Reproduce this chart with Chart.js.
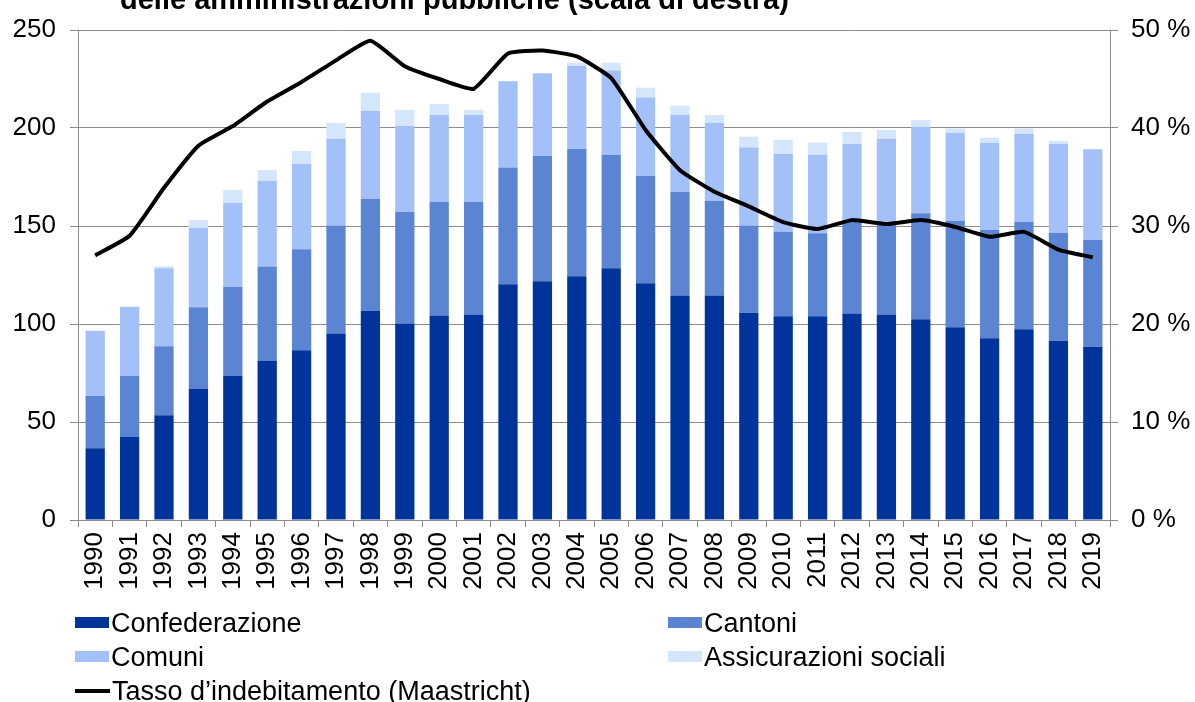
<!DOCTYPE html>
<html>
<head>
<meta charset="utf-8">
<script src="https://cdn.jsdelivr.net/npm/chart.js@4"></script>
<style>
   html, body { margin: 0; padding: 0; background: #fff; overflow: hidden; }
   #wrap { position: relative; width: 1195px; height: 702px; overflow: hidden; font-family: "Liberation Sans", Arial, sans-serif; }
   #title { position: absolute; left: 120px; top: -15px; font-size: 29px; line-height: 29px; font-weight: bold; color: #000; white-space: nowrap; }
   .leg { position: absolute; font-size: 27px; line-height: 30px; color: #000; white-space: nowrap; }
   .sw { display: inline-block; width: 34px; height: 11px; vertical-align: middle; margin-right: 2px; position: relative; top: -2px; }
   .ln { display: inline-block; width: 35px; height: 4px; background: #000; vertical-align: middle; margin-right: 2px; position: relative; top: -2px; }
</style>
</head>
<body>
<div id="wrap">
   <div id="title">delle amministrazioni pubbliche (scala di destra)</div>
   <canvas id="chart" width="1195" height="702"></canvas>
   <div class="leg" style="left:75px;top:608px"><span class="sw" style="background:#00349a"></span>Confederazione</div>
   <div class="leg" style="left:668px;top:608px"><span class="sw" style="background:#5b85d2"></span>Cantoni</div>
   <div class="leg" style="left:75px;top:642px"><span class="sw" style="background:#a3c0f8"></span>Comuni</div>
   <div class="leg" style="left:668px;top:642px"><span class="sw" style="background:#d4e6fb"></span>Assicurazioni sociali</div>
   <div class="leg" style="left:75px;top:676px"><span class="ln"></span>Tasso d’indebitamento (Maastricht)</div>
</div>
<script>
// anni
var years = ["1990","1991","1992","1993","1994","1995","1996","1997","1998","1999",
   "2000","2001","2002","2003","2004","2005","2006","2007","2008","2009",
   "2010","2011","2012","2013","2014","2015","2016","2017","2018","2019"];

// debito in mia. di franchi
var confederazione = [36.6,42.3,53.4,66.8,73.5,81.1,86.6,95.2,106.8,100.3,
   104.4,104.8,120.3,121.8,124.3,128.4,120.8,114.5,114.5,105.8,
   103.9,103.9,105.4,104.8,102.4,98.3,92.7,97.3,91.5,88.4];
var cantoni = [26.8,31.2,35.2,41.7,45.5,48.2,51.5,55.0,57.1,57.0,
   58.0,57.6,59.5,64.1,65.1,58.0,54.9,53.0,48.4,44.4,
   43.2,42.4,47.7,45.7,54.1,54.4,55.3,54.9,55.1,54.5];
var comuni = [33.2,35.3,39.8,40.6,42.9,43.8,43.7,44.3,44.9,43.7,
   44.2,44.2,44.0,42.0,42.4,42.9,39.8,39.3,39.8,39.8,
   39.8,40.1,38.7,44.0,44.2,44.9,44.5,44.9,45.4,46.2];
var assicurazioni = [0,0,1.0,3.9,6.5,5.5,6.5,8.1,9.1,8.2,
   5.6,2.6,0,0,1.5,4.0,5.1,4.6,3.9,5.6,
   7.1,6.1,6.2,4.5,3.3,2.2,2.5,2.7,1.4,0];

// tasso d'indebitamento in % (scala di destra)
var tasso = [27.0,29.0,33.9,38.2,40.2,42.7,44.7,46.9,48.9,46.3,
   45.0,44.0,47.6,47.9,47.3,45.1,39.8,35.7,33.5,32.0,
   30.4,29.7,30.6,30.2,30.6,29.9,28.9,29.4,27.6,26.8];

var gridColor = '#8c8c8c';
var tickFont = { family: '"Liberation Sans", Arial, sans-serif', size: 26 };

function barSet(label, values, color) {
   return {
      type: 'bar',
      label: label,
      data: values,
      backgroundColor: color,
      borderWidth: 0,
      categoryPercentage: 1,
      barPercentage: 0.56,
      yAxisID: 'y',
      order: 1
   };
}

const ctx = document.getElementById('chart');
new Chart(ctx, {
   data: {
      labels: years,
      datasets: [
         {
            type: 'line',
            label: 'Tasso d’indebitamento (Maastricht)',
            data: tasso,
            borderColor: '#000',
            borderWidth: 4,
            pointRadius: 0,
            tension: 0.15,
            fill: false,
            yAxisID: 'y1',
            order: 0
         },
         barSet('Confederazione', confederazione, '#00349a'),
         barSet('Cantoni', cantoni, '#5b85d2'),
         barSet('Comuni', comuni, '#a3c0f8'),
         barSet('Assicurazioni sociali', assicurazioni, '#d4e6fb')
      ]
   },
   options: {
      responsive: false,
      animation: false,
      layout: { padding: { top: 30, left: 0, right: 0, bottom: 92 } },
      plugins: {
         legend: { display: false },
         title: { display: false },
         tooltip: { enabled: false }
      },
      scales: {
         x: {
            stacked: true,
            afterFit: function (scale) { scale.height = 90; },
            grid: { display: true, drawOnChartArea: false, color: gridColor, tickLength: 7, offset: true },
            border: { color: gridColor },
            ticks: { color: '#000', font: tickFont, minRotation: 90, maxRotation: 90, padding: 5, autoSkip: false }
         },
         y: {
            stacked: true,
            position: 'left',
            min: 0,
            max: 250,
            afterFit: function (scale) { scale.width = 78; },
            grid: { color: gridColor, tickLength: 8 },
            border: { color: gridColor },
            ticks: { color: '#000', font: tickFont, stepSize: 50, padding: 14 }
         },
         y1: {
            stacked: false,
            position: 'right',
            min: 0,
            max: 50,
            afterFit: function (scale) { scale.width = 85; },
            grid: { drawOnChartArea: false, color: gridColor, tickLength: 8 },
            border: { color: gridColor },
            ticks: {
               color: '#000', font: tickFont, stepSize: 10, padding: 13,
               callback: function (v) { return v + ' %'; }
            }
         }
      }
   }
});
</script>
</body>
</html>
